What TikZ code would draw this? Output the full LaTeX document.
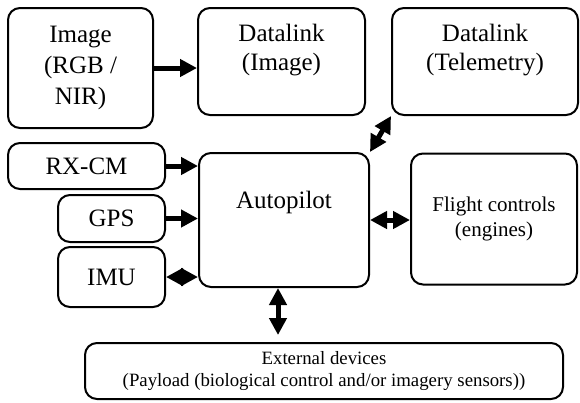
\documentclass[tikz,border=0pt]{standalone}
\usepackage{fontspec}
\setmainfont{Liberation Serif}
\usetikzlibrary{arrows.meta,calc}

\tikzset{
  blk/.style={draw, rounded corners=12pt, line width=2pt, align=center, inner sep=0pt},
  big/.style={font=\fontsize{25}{31}\selectfont},
  link/.style={line width=5pt, -{Triangle[length=17pt,width=17pt]}},
  dlink/.style={line width=5pt, {Triangle[length=17pt,width=17pt]}-{Triangle[length=17pt,width=17pt]}}
}

\begin{document}
\begin{tikzpicture}[x=1pt,y=1pt]
        \useasboundingbox (0,0) rectangle (580,-402);
        % top row
        \node[blk,big,minimum width=145pt,minimum height=120pt] (img) at (80.5,-68) {Image\\(RGB /\\NIR)};
        \node[blk,font=\fontsize{25}{29}\selectfont,minimum width=167pt,minimum height=107pt] (dlimg) at (281.5,-61.5) {Datalink\\(Image)\\\mbox{}};
        \node[blk,font=\fontsize{25}{29}\selectfont,minimum width=186pt,minimum height=107pt] (dltel) at (485,-61.5) {Datalink\\(Telemetry)\\\mbox{}};
        % sensors
        \node[blk,big,minimum width=157pt,minimum height=46pt] (rx) at (86.5,-166) {RX-CM};
        \node[blk,big,minimum width=107pt,minimum height=47pt] (gps) at (111.5,-218.5) {GPS};
        \node[blk,big,minimum width=107pt,minimum height=60pt] (imu) at (111.5,-277) {IMU};
        % centre and right
        \node[blk,big,minimum width=170pt,minimum height=134pt,text height=17pt,text depth=41pt] (ap) at (284,-220) {Autopilot};
        \node[blk,font=\fontsize{21}{25}\selectfont,minimum width=166pt,minimum height=131pt] (fc) at (494,-219) {Flight controls\\(engines)};
        \node[blk,font=\fontsize{18.8}{22}\selectfont,minimum width=478pt,minimum height=56pt] (ext) at (324,-371) {External devices\\(Payload (biological control and/or imagery sensors))};
        % links
        \coordinate (apbus) at ($(ap.south)+(-6,0)$);
        \draw[link] (img.east) -- (img.east -| dlimg.west);
        \draw[dlink] (dltel.south west) -- (ap.north east);
        \draw[link] (rx.east) -- (rx.east -| ap.west);
        \draw[link] (gps.east) -- (gps.east -| ap.west);
        \draw[dlink] (imu.east) -- (imu.east -| ap.west);
        \draw[dlink] (ap.east) -- (ap.east -| fc.west);
        \draw[dlink,shorten >=7pt] (apbus) -- (apbus |- ext.north);
\end{tikzpicture}
\end{document}
